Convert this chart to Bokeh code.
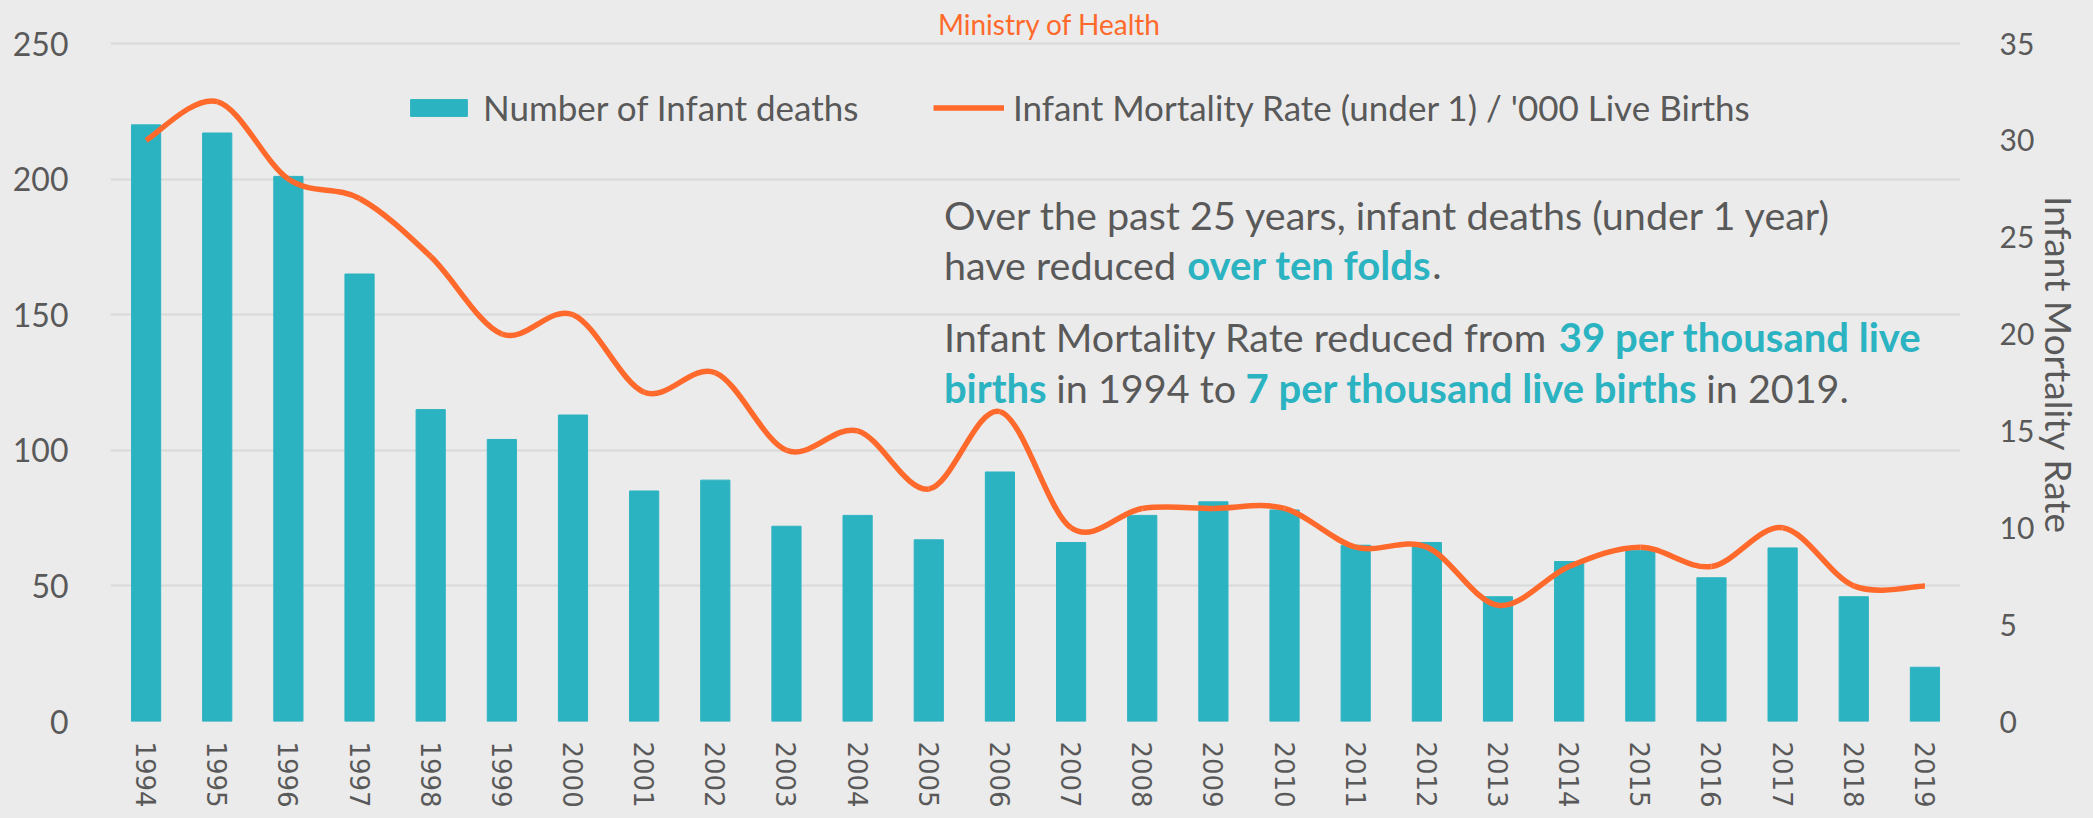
import math
import os
import struct
import subprocess
from bokeh.plotting import figure
from bokeh.models import (Range1d, LinearAxis, FixedTicker, Label, Legend,
                          LegendItem, GlobalInlineStyleSheet)
from bokeh.embed import file_html
from bokeh.resources import INLINE

# ---------------- data ----------------
years = ["1994", "1995", "1996", "1997", "1998", "1999", "2000", "2001", "2002",
         "2003", "2004", "2005", "2006", "2007", "2008", "2009", "2010", "2011",
         "2012", "2013", "2014", "2015", "2016", "2017", "2018", "2019"]
infant_deaths = [220, 217, 201, 165, 115, 104, 113, 85, 89, 72, 76, 67, 92,
                 66, 76, 81, 78, 65, 66, 46, 59, 63, 53, 64, 46, 20]
mortality_rate = [30, 32, 28, 27, 24, 20, 21, 17, 18, 14, 15, 12, 16,
                  10, 11, 11, 11, 9, 9, 6, 8, 9, 8, 10, 7, 7]
left_ticks = [0, 50, 100, 150, 200, 250]
right_ticks = [0, 5, 10, 15, 20, 25, 30, 35]
LEFT_MAX, RIGHT_MAX = 250, 35

# ---------------- style ----------------
BG = "#EBEBEB"
TEAL = "#2CB3C1"
ORANGE = "#FF6A2C"
GREY = "#595959"
GRID = "#D9D9D9"
FONT = "Lato"

W, H = 2077, 802
OX, OY = 8, 8                        # page margin
FL, FR, FB = 110, 1968, 721          # frame edges in page px
G250 = 43                            # page y of the top gridline
FT = OY                              # frame extends to the top of the figure

# ---------------- text measuring (for placing mixed-style runs) ----------------
class TTF:
    def __init__(self, path):
        d = open(path, "rb").read()
        self.d = d
        nt = struct.unpack(">H", d[4:6])[0]
        tb = {}
        for i in range(nt):
            tag, _, off, ln = struct.unpack(">4sIII", d[12 + 16 * i:28 + 16 * i])
            tb[tag.decode("latin1")] = off
        self.upm = struct.unpack(">H", d[tb["head"] + 18:tb["head"] + 20])[0]
        nhm = struct.unpack(">H", d[tb["hhea"] + 34:tb["hhea"] + 36])[0]
        hm = tb["hmtx"]
        self.adv = [struct.unpack(">H", d[hm + 4 * i:hm + 4 * i + 2])[0] for i in range(nhm)]
        cm = tb["cmap"]
        n = struct.unpack(">H", d[cm + 2:cm + 4])[0]
        sub = None
        for i in range(n):
            pid, eid, off = struct.unpack(">HHI", d[cm + 4 + 8 * i:cm + 12 + 8 * i])
            fmt = struct.unpack(">H", d[cm + off:cm + off + 2])[0]
            if fmt == 4 and pid in (0, 3):
                sub = cm + off
                break
        s2 = struct.unpack(">H", d[sub + 6:sub + 8])[0]
        ns = s2 // 2
        self.ends = struct.unpack(">%dH" % ns, d[sub + 14:sub + 14 + s2])
        self.starts = struct.unpack(">%dH" % ns, d[sub + 16 + s2:sub + 16 + 2 * s2])
        self.deltas = struct.unpack(">%dh" % ns, d[sub + 16 + 2 * s2:sub + 16 + 3 * s2])
        self.ro = sub + 16 + 3 * s2
        self.ranges = struct.unpack(">%dH" % ns, d[self.ro:self.ro + s2])

    def gid(self, c):
        for i, e in enumerate(self.ends):
            if c <= e:
                if c < self.starts[i]:
                    return 0
                if self.ranges[i] == 0:
                    return (c + self.deltas[i]) & 0xFFFF
                a = self.ro + 2 * i + self.ranges[i] + 2 * (c - self.starts[i])
                g = struct.unpack(">H", self.d[a:a + 2])[0]
                return (g + self.deltas[i]) & 0xFFFF if g else 0
        return 0

    def width(self, s, size):
        t = 0
        for ch in s:
            g = self.gid(ord(ch))
            t += self.adv[min(g, len(self.adv) - 1)]
        return t * size / self.upm


def find_font(fname, pattern):
    for root in ("/usr/share/fonts", "/usr/local/share/fonts",
                 os.path.expanduser("~/.fonts"), os.path.expanduser("~/.local/share/fonts")):
        if os.path.isdir(root):
            for dp, _, fs in os.walk(root):
                if fname in fs:
                    return os.path.join(dp, fname)
    try:
        out = subprocess.run(["fc-match", "-f", "%{file}", pattern],
                             capture_output=True, text=True, timeout=5).stdout.strip()
        if out and os.path.exists(out) and out.lower().endswith(".ttf"):
            return out
    except Exception:
        pass
    return None


def load(fname, pattern):
    try:
        path = find_font(fname, pattern)
        return TTF(path) if path else None
    except Exception:
        return None


FONT_REG = load("Lato-Regular.ttf", "Lato:regular")
FONT_BOLD = load("Lato-Bold.ttf", "Lato:bold")


def text_width(s, size, bold):
    f = FONT_BOLD if bold else FONT_REG
    if f is not None:
        return f.width(s, size)
    return len(s) * size * (0.53 if bold else 0.5)


# ---------------- figure ----------------
idx = list(range(len(years)))
n = len(idx)
scale = (FB - FT) / (FB - G250)      # extra head-room above the top gridline

p = figure(width=W, height=H,
           x_range=Range1d(-0.5, n - 0.5), y_range=Range1d(0, LEFT_MAX * scale),
           output_backend="svg", toolbar_location=None,
           min_border_left=FL - OX, min_border_right=W - (FR - OX),
           min_border_top=FT - OY, min_border_bottom=H - (FB - OY))
p.stylesheets = [GlobalInlineStyleSheet(
    css="html, body { background-color: #EBEBEB; } body { margin: 8px !important; }")]
p.background_fill_color = BG
p.border_fill_color = BG
p.outline_line_color = None
p.extra_y_ranges = {"rate": Range1d(0, RIGHT_MAX * scale)}

# axes
xa = p.xaxis[0]
xa.ticker = FixedTicker(ticks=idx)
xa.major_label_overrides = {i: y for i, y in zip(idx, years)}
xa.major_label_orientation = "vertical"
xa.major_label_text_font = "DejaVu Sans"
xa.major_label_text_font_size = "26px"
xa.major_label_text_color = GREY
xa.major_label_standoff = 14
xa.axis_line_color = None
xa.major_tick_line_color = None
xa.minor_tick_line_color = None

ya = p.yaxis[0]
ya.ticker = FixedTicker(ticks=left_ticks)
ya.major_label_text_font = FONT
ya.major_label_text_font_size = "32px"
ya.major_label_text_color = GREY
ya.major_label_standoff = 36
ya.axis_line_color = None
ya.major_tick_line_color = None
ya.minor_tick_line_color = None

ra = LinearAxis(y_range_name="rate", ticker=FixedTicker(ticks=right_ticks))
ra.major_label_text_font = FONT
ra.major_label_text_font_size = "30px"
ra.major_label_text_color = GREY
ra.major_label_standoff = 33
ra.axis_line_color = None
ra.major_tick_line_color = None
ra.minor_tick_line_color = None
ra.axis_label = "Infant Mortality Rate"
ra.axis_label_text_font = FONT
ra.axis_label_text_font_size = "37px"
ra.axis_label_text_font_style = "normal"
ra.axis_label_text_color = GREY
ra.axis_label_standoff = 0
p.add_layout(ra, "right")

p.xgrid.grid_line_color = None
p.ygrid.grid_line_color = GRID
p.ygrid.grid_line_width = 2
p.ygrid.ticker = FixedTicker(ticks=left_ticks)

# bars
bars = p.vbar(x=idx, top=infant_deaths, width=0.41, fill_color=TEAL,
              line_color=TEAL, line_width=1)

# smoothed line (Catmull-Rom as cubic Bezier segments)
def cp(vals, i, sign):
    a = vals[max(i - 1, 0)]
    b = vals[min(i + 1, n - 1)]
    return vals[i] + sign * (b - a) / 6.0

x0 = idx[:-1]
y0 = mortality_rate[:-1]
x1 = idx[1:]
y1 = mortality_rate[1:]
cx0 = [cp(idx, i, 1) for i in range(n - 1)]
cy0 = [cp(mortality_rate, i, 1) for i in range(n - 1)]
cx1 = [cp(idx, i + 1, -1) for i in range(n - 1)]
cy1 = [cp(mortality_rate, i + 1, -1) for i in range(n - 1)]
curve = p.bezier(x0=x0, y0=y0, x1=x1, y1=y1, cx0=cx0, cy0=cy0, cx1=cx1, cy1=cy1,
                 y_range_name="rate", line_color=ORANGE, line_width=5.5)

# legends (two single-item legends placed like the original)
def make_legend(label, rend, x_px):
    return Legend(items=[LegendItem(label=label, renderers=[rend])],
                  location=(x_px - FL, 593), orientation="horizontal",
                  glyph_width=71, glyph_height=21, label_standoff=9,
                  padding=0, margin=0, border_line_color=None,
                  background_fill_alpha=0, label_text_font=FONT,
                  label_text_font_size="35px", label_text_color=GREY)

p.add_layout(make_legend("Number of Infant deaths", bars, 403))
p.add_layout(make_legend("Infant Mortality Rate (under 1) / '000 Live Births", curve, 933))

# text annotations, positioned in page pixels (y = vertical centre of the line)
def px_x(px):
    return -0.5 + (px - FL) / (FR - FL) * n

def px_y(py):
    return (FB - py) / (FB - G250) * LEFT_MAX

def lab(text, px, py, size, color, bold=False):
    p.add_layout(Label(x=px_x(px), y=px_y(py), text=text, text_font=FONT,
                       text_font_size="%gpx" % size, text_color=color,
                       text_font_style="bold" if bold else "normal",
                       text_baseline="middle", text_align="left"))

REG, BOLD = 39.5, 40

def line(runs, px, py):
    x = px
    for k, (txt, bold) in enumerate(runs):
        size = BOLD if bold else REG
        lab(txt, x, py, size, TEAL if bold else GREY, bold)
        x += text_width(txt, size, bold)
        if k < len(runs) - 1 and not runs[k + 1][0].startswith("."):
            x += text_width(" ", REG, False)

lab("Ministry of Health", 941, 23, 28, ORANGE)

line([("Over the past 25 years, infant deaths (under 1 year)", False)], 947, 214)
line([("have reduced", False), ("over ten folds", True), (".", False)], 947, 264)
line([("Infant Mortality Rate reduced from", False), ("39 per thousand live", True)], 947, 336)
line([("births", True), ("in 1994 to", False), ("7 per thousand live births", True),
      ("in 2019.", False)], 947, 387)

open("out.html", "w").write(file_html(p, INLINE))
